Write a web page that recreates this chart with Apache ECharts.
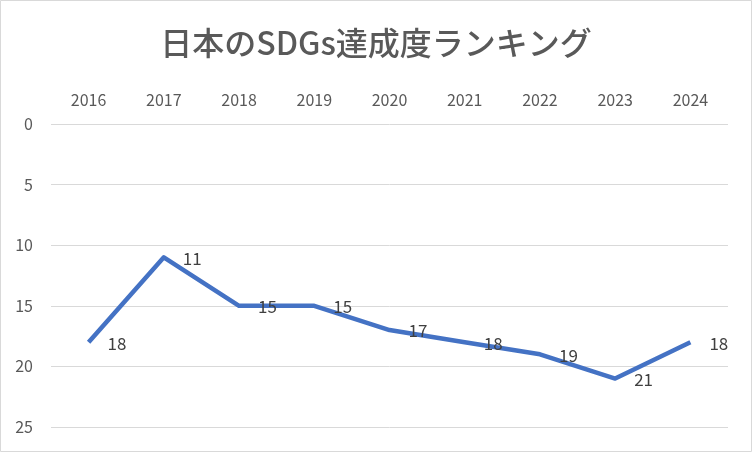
<!DOCTYPE html>
<html><head><meta charset="utf-8">
<script src="https://cdn.jsdelivr.net/npm/echarts@6/dist/echarts.min.js"></script>
<style>html,body{margin:0;padding:0;background:#fff}#c{width:752px;height:452px}</style>
</head><body><div id="c"></div>
<script>
const years = ['2016','2017','2018','2019','2020','2021','2022','2023','2024'];
const ranks = [18, 11, 15, 15, 17, 18, 19, 21, 18];
const titleText = '日本のSDGs達成度ランキング';
const font = '"Noto Sans CJK JP", "Noto Sans", sans-serif';
const chart = echarts.init(document.getElementById('c'), null, {renderer:'canvas'});
chart.setOption({
  animation: false,
  backgroundColor: '#fff',
  title: {
    text: titleText, left: 'center', top: 22,
    textStyle: {fontFamily: font, fontSize: 32, fontWeight: 500, color: '#595959'}
  },
  graphic: [{type:'rect', shape:{x:0.5,y:0.5,width:751,height:451}, style:{fill:'none', stroke:'#d9d9d9', lineWidth:1}, silent:true}],
  grid: {left: 51, right: 24, top: 124, bottom: 25},
  xAxis: {
    type: 'category', data: years, position: 'top', boundaryGap: true,
    axisLine: {show: false}, axisTick: {show: false},
    axisLabel: {color: '#595959', fontFamily: font, fontSize: 16, margin: 16}
  },
  yAxis: {
    type: 'value', inverse: true, min: 0, max: 25, interval: 5,
    axisLine: {show: false}, axisTick: {show: false},
    axisLabel: {color: '#595959', fontFamily: font, fontSize: 16, margin: 18},
    splitLine: {lineStyle: {color: '#d9d9d9', width: 1}}
  },
  series: [{
    type: 'line', data: ranks, showSymbol: true, symbol: 'circle', symbolSize: 2,
    lineStyle: {color: '#4472C4', width: 4.5, join: 'round'},
    itemStyle: {color: 'rgba(68,114,196,0)', borderWidth: 0},
    label: {show: true, position: 'right', distance: 18, color: '#404040', fontFamily: font, fontSize: 17, offset:[0,1]}
  }]
});
</script></body></html>
